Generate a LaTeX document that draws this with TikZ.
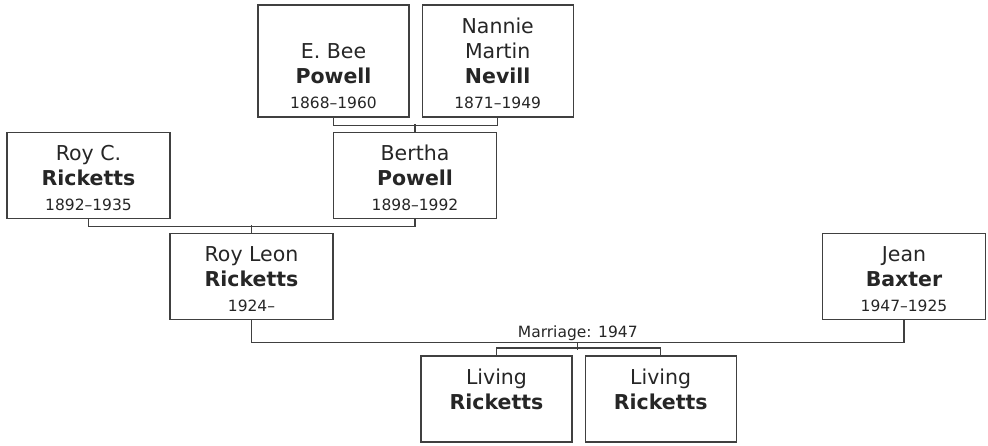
\documentclass[tikz,border=0pt]{standalone}
\usepackage{fontspec}
\setmainfont{DejaVu Sans}
\usepackage{tikz}
\usetikzlibrary{positioning,calc}

\newcommand{\yrs}{\fontsize{15.5}{21}\selectfont}
\newcommand{\upstrut}{\rule{0pt}{22pt}}
\newcommand{\dnstrut}{\rule[-2pt]{0pt}{2pt}}

\begin{document}
\begin{tikzpicture}[
    x = 1pt, y = -1pt,
    node distance = 12pt,
    person/.style  = {rectangle, draw=black!75, line width=1.2pt, fill=white,
                      text=black!85, minimum width=151pt, minimum height=86pt,
                      inner sep=0pt, align=center,
                      font=\fontsize{20.5}{25}\selectfont},
    wide/.style    = {minimum width=163pt},
    tall/.style    = {minimum height=112pt},
    link/.style    = {draw=black!75, line width=1.2pt},
    wedlabel/.style= {font=\yrs, text=black!85, inner sep=1.5pt, anchor=south}
]
\useasboundingbox (0,0) rectangle (988,445);

% Grandparents
\node[person, tall] (bee) at (333.5,61)
    {\upstrut\\E. Bee\\\textbf{Powell}\\\yrs 1868--1960\dnstrut};
\node[person, tall, right=12pt of bee] (nevill)
    {\upstrut Nannie\\Martin\\\textbf{Nevill}\\\yrs 1871--1949\dnstrut};

% Parents
\node[person, wide] (royc)   at (88.5,175.5)
    {\upstrut Roy C.\\\textbf{Ricketts}\\\yrs 1892--1935\dnstrut};
\node[person, wide] (bertha) at (415,175.5)
    {\upstrut Bertha\\\textbf{Powell}\\\yrs 1898--1992\dnstrut};

% Couple
\node[person, wide] (royleon) at (251.5,276.5)
    {\upstrut Roy Leon\\\textbf{Ricketts}\\\yrs 1924--\dnstrut};
\node[person, wide] (jean)    at (904,276.5)
    {\upstrut Jean\\\textbf{Baxter}\\\yrs 1947--1925\dnstrut};

% Children
\node[person] (livinga) at (496.5,399)
    {\upstrut Living\\\textbf{Ricketts}\\\yrs\dnstrut};
\node[person, right=12pt of livinga] (livingb)
    {\upstrut Living\\\textbf{Ricketts}\\\yrs\dnstrut};

% Lines
\draw[link] (bee.south) -- ++(0,8) -| (nevill.south);
\draw[link] (bertha.north) -- ++(0,-8);
\draw[link] (royc.south) -- ++(0,7.5) -| (bertha.south);
\draw[link] (royleon.north) -- ++(0,-7.5);
\draw[link] (royleon.south) -- ++(0,22) coordinate (wedl) -| (jean.south);
\coordinate (wedm) at ($(wedl)!0.5!(wedl -| jean.south)$);
\node[wedlabel] (wed) at (wedm) {Marriage: 1947};
\draw[link] (wedm) -- ++(0,7.5);
\draw[link] (livinga.north) -- ++(0,-7.5) -| (livingb.north);

\end{tikzpicture}
\end{document}
